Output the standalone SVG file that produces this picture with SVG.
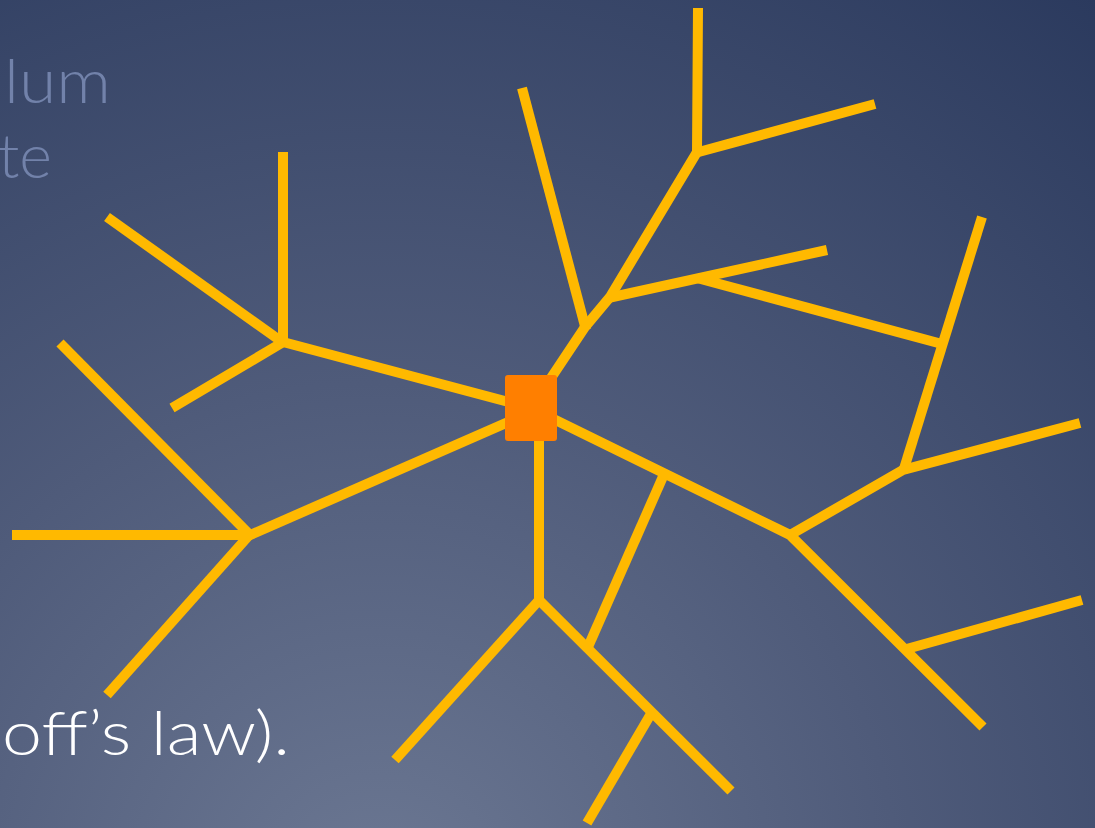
<svg xmlns="http://www.w3.org/2000/svg" width="1095" height="828" viewBox="0 0 1095 828">
  <defs>
    <radialGradient id="bg" gradientUnits="userSpaceOnUse" cx="380" cy="900" r="1150">
      <stop offset="0" stop-color="#6c7893"/>
      <stop offset="0.45" stop-color="#4f5b7a"/>
      <stop offset="1" stop-color="#2b3a5e"/>
    </radialGradient>
    <style>
      .br { fill: none; stroke: #ffb900; stroke-width: 10; stroke-linecap: butt; stroke-linejoin: miter; }
      .faint { font-family: "Lato", "Liberation Sans", sans-serif; font-weight: 300; font-size: 62px; fill: #7282aa; }
      .main { font-family: "Lato", "Liberation Sans", sans-serif; font-weight: 300; font-size: 62px; fill: #ffffff; }
    </style>
  </defs>
  <rect width="1095" height="828" fill="url(#bg)"/>
  <g id="text">
    <text class="faint" x="4" y="103" textLength="107" lengthAdjust="spacingAndGlyphs">lum</text>
    <text class="faint" x="-2" y="178" textLength="54" lengthAdjust="spacingAndGlyphs">te</text>
    <text class="main" x="2" y="755" textLength="288" lengthAdjust="spacingAndGlyphs">off’s law).</text>
  </g>
  <g id="connectors">
    <!-- upper-left -->
    <line class="br" x1="531" y1="408" x2="283" y2="342"/>
    <line class="br" x1="283" y1="152" x2="283" y2="345"/>
    <line class="br" x1="285" y1="344" x2="107" y2="217"/>
    <line class="br" x1="285" y1="341" x2="172" y2="408"/>
    <!-- left -->
    <line class="br" x1="531" y1="412" x2="248" y2="536"/>
    <line class="br" x1="60" y1="343" x2="252" y2="537"/>
    <line class="br" x1="12" y1="535" x2="252" y2="535"/>
    <line class="br" x1="252" y1="532" x2="107" y2="695"/>
    <!-- down -->
    <line class="br" x1="539" y1="430" x2="539" y2="602"/>
    <line class="br" x1="541" y1="598" x2="395" y2="760"/>
    <line class="br" x1="537" y1="598" x2="731" y2="791"/>
    <line class="br" x1="652" y1="712" x2="587" y2="823"/>
    <line class="br" x1="665" y1="472" x2="588" y2="647"/>
    <!-- right -->
    <polyline class="br" points="531,408 790,535 983,727"/>
    <line class="br" x1="903" y1="650" x2="1082" y2="600"/>
    <polyline class="br" points="790,535 903,470 1080,423"/>
    <line class="br" x1="903" y1="472" x2="982" y2="217"/>
    <line class="br" x1="697" y1="278" x2="942" y2="344"/>
    <!-- up -->
    <polyline class="br" points="531,408 585,327 610,297 697,152 698,8"/>
    <line class="br" x1="695" y1="153" x2="875" y2="104"/>
    <line class="br" x1="522" y1="88" x2="586" y2="330"/>
    <line class="br" x1="608" y1="298" x2="827" y2="250"/>
  </g>
  <g id="soma">
    <rect x="505" y="375" width="52" height="66" rx="3" fill="#ff7f00"/>
  </g>
</svg>
